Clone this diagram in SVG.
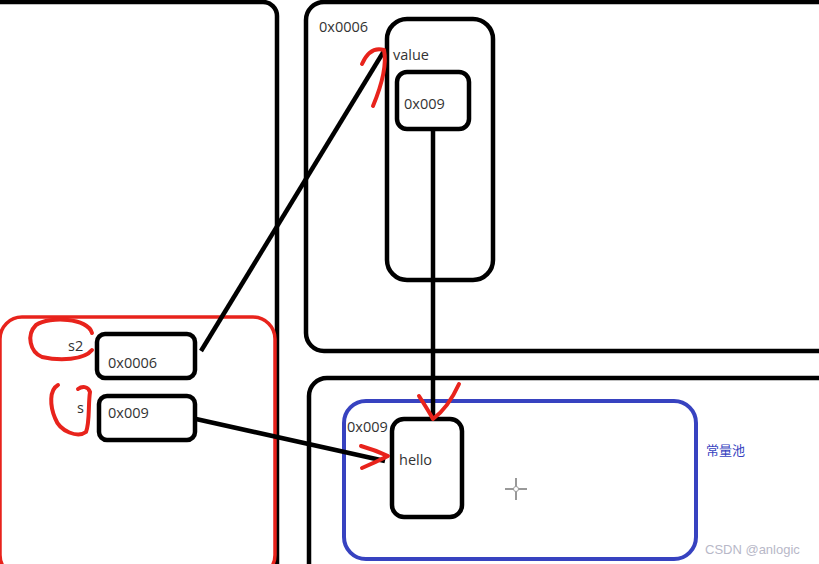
<svg xmlns="http://www.w3.org/2000/svg" width="819" height="564" viewBox="0 0 819 564">
<style>
.blk{fill:none;stroke:#000;stroke-width:4.5}
.red{fill:none;stroke:#e8231c;stroke-width:4;stroke-linecap:round;stroke-linejoin:round}
.t{font-family:"Open Sans","Liberation Sans",sans-serif;font-size:14.5px;fill:#333}
</style>
<rect width="819" height="564" fill="#fff"/>
<g id="stack-frame"><rect class="blk" x="-20" y="2" width="297" height="600" rx="14"/></g>
<g id="heap-top"><rect class="blk" x="306" y="2" width="540" height="349" rx="18"/></g>
<g id="heap-bottom"><rect class="blk" x="309" y="378" width="540" height="220" rx="18"/></g>
<g id="main-frame"><rect x="0" y="317" width="275" height="260" rx="22" fill="none" stroke="#e8231c" stroke-width="3.5"/></g>
<g id="string-pool"><rect x="344" y="401" width="352" height="158" rx="22" fill="none" stroke="#3742c0" stroke-width="4"/>
<text x="706" y="455" font-family="'Noto Sans CJK SC',sans-serif" font-size="13" fill="#3742c0">常量池</text></g>
<g id="obj-0x0006"><text class="t" x="319" y="32">0x0006</text>
<rect class="blk" x="387" y="19" width="106" height="261" rx="20"/>
<text class="t" x="393" y="60">value</text></g>
<g id="value-ref"><rect class="blk" x="397" y="72" width="72" height="57" rx="10"/>
<text class="t" x="404" y="109">0x009</text></g>
<g id="var-s2"><text class="t" x="68" y="351">s2</text>
<rect class="blk" x="97" y="334" width="98" height="44" rx="8"/>
<text class="t" x="108" y="368">0x0006</text></g>
<g id="var-s"><text class="t" x="77" y="413">s</text>
<rect class="blk" x="99" y="396" width="96" height="44" rx="8"/>
<text class="t" x="108" y="418">0x009</text></g>
<g id="hello"><text class="t" x="347" y="432">0x009</text>
<rect class="blk" x="392" y="419" width="70" height="98" rx="12"/>
<text class="t" x="399" y="465">hello</text></g>
<g id="connectors">
<line class="blk" x1="201" y1="351" x2="384" y2="51"/>
<line class="blk" x1="196" y1="419" x2="385" y2="461"/>
<line class="blk" x1="433" y1="131" x2="433" y2="420"/>
</g>
<g id="marks">
<path class="red" d="M362 64 Q370 46 384 50 Q388 70 373 106"/>
<path class="red" d="M419 396 Q428 410 433 419 Q448 408 459 384"/>
<path class="red" d="M361 446 Q375 450 388 456 Q376 462 362 468"/>
<path class="red" d="M92 333 C88 318 50 316 36 325 C26 335 30 352 42 357 C60 361 84 360 92 350"/>
<path class="red" d="M58 385 C49 390 50 406 55 418 C60 432 78 438 86 432 C90 422 88 405 90 392 C88 386 82 386 78 389"/>
<g stroke="#777" stroke-width="1.5"><line x1="516" y1="478" x2="516" y2="500"/><line x1="505" y1="489" x2="527" y2="489"/></g>
<circle cx="516" cy="489" r="2.5" fill="#fff" stroke="#999"/>
</g>
<text x="705" y="554" font-family="'Liberation Sans',sans-serif" font-size="13" fill="#b8b8c8">CSDN @anlogic</text>
</svg>
